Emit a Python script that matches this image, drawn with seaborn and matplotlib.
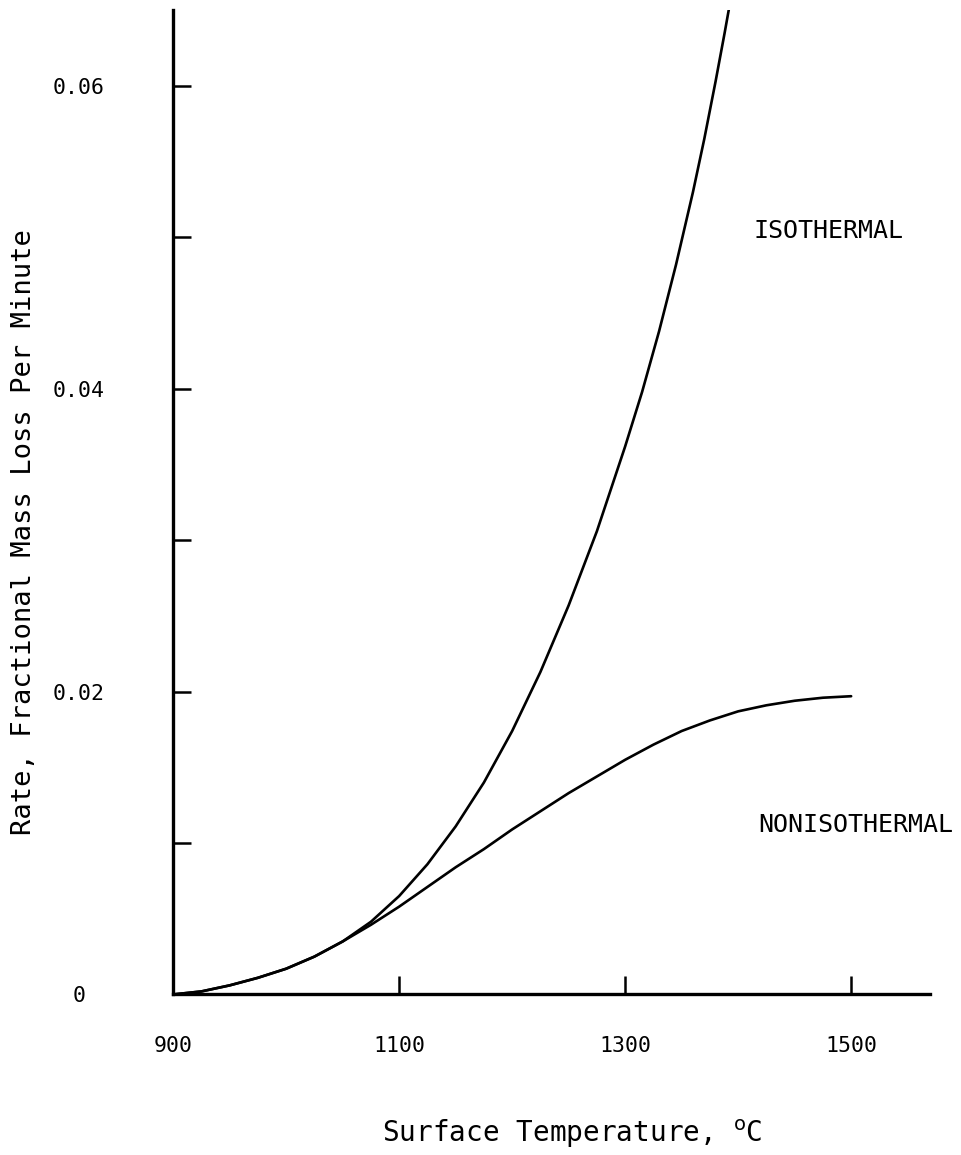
import numpy as np
import pandas as pd
import matplotlib
matplotlib.use("Agg")
import matplotlib.pyplot as plt
import seaborn as sns

# Data
iso_temp = [900, 925, 950, 975, 1000, 1025, 1050, 1075, 1100, 1125, 1150, 1175, 1200, 1225, 1250,
            1275, 1300, 1315, 1330, 1345, 1360, 1370, 1380, 1388, 1394]
iso_rate = [0.0, 0.0002, 0.0006, 0.0011, 0.0017, 0.0025, 0.0035, 0.0048, 0.0065, 0.0086, 0.0111,
            0.0140, 0.0174, 0.0213, 0.0257, 0.0306, 0.0362, 0.0398, 0.0438, 0.0482, 0.0530,
            0.0565, 0.0603, 0.0635, 0.0660]
noniso_temp = [900, 925, 950, 975, 1000, 1025, 1050, 1075, 1100, 1125, 1150, 1175, 1200, 1225,
               1250, 1275, 1300, 1325, 1350, 1375, 1400, 1425, 1450, 1475, 1500]
noniso_rate = [0.0, 0.0002, 0.0006, 0.0011, 0.0017, 0.0025, 0.0035, 0.0046, 0.0058, 0.0071,
               0.0084, 0.0096, 0.0109, 0.0121, 0.0133, 0.0144, 0.0155, 0.0165, 0.0174, 0.0181,
               0.0187, 0.0191, 0.0194, 0.0196, 0.0197]

x_ticks = [900, 1100, 1300, 1500]
x_ticklabels = ["900", "1100", "1300", "1500"]
y_ticks = [0, 0.01, 0.02, 0.03, 0.04, 0.05, 0.06]
y_ticklabels = ["0", "", "0.02", "", "0.04", "", "0.06"]

sns.set_theme(style="ticks")
plt.rcParams["font.family"] = ["DejaVu Sans Mono", "DejaVu Sans"]

fig = plt.figure(figsize=(9.62, 11.55), dpi=100)
ax = fig.add_axes([0.180, 0.139, 0.787, 0.852])

df = pd.concat([
    pd.DataFrame({"temp": iso_temp, "rate": iso_rate, "series": "ISOTHERMAL"}),
    pd.DataFrame({"temp": noniso_temp, "rate": noniso_rate, "series": "NONISOTHERMAL"}),
])
sns.lineplot(data=df, x="temp", y="rate", units="series", estimator=None,
             color="black", linewidth=1.9, ax=ax, legend=False, sort=True)

ax.set_xlim(900, 1570)
ax.set_ylim(0, 0.065)

ax.set_xticks(x_ticks)
ax.set_xticklabels(x_ticklabels)
ax.set_yticks(y_ticks)
ax.set_yticklabels(y_ticklabels)

for s in ["top", "right"]:
    ax.spines[s].set_visible(False)
for s in ["left", "bottom"]:
    ax.spines[s].set_linewidth(2.4)
    ax.spines[s].set_color("black")

ax.tick_params(axis="x", which="both", bottom=True, direction="in", length=13, width=1.8,
               pad=30, labelsize=15.5, colors="black")
ax.tick_params(axis="y", which="both", left=True, direction="in", length=13, width=1.8,
               pad=68, labelsize=15.5, colors="black")
# no tick mark at the origin
ax.xaxis.get_major_ticks()[0].tick1line.set_visible(False)
ax.yaxis.get_major_ticks()[0].tick1line.set_visible(False)
for lab in ax.get_yticklabels():
    lab.set_horizontalalignment("center")

ax.set_xlabel("Surface Temperature, $^{\\rm o}$C", fontsize=20, color="black")
ax.set_ylabel("Rate, Fractional Mass Loss Per Minute", fontsize=19.5, color="black")
ax.xaxis.set_label_coords(0.527, -0.125)
ax.yaxis.set_label_coords(-0.180, 0.47)

ax.text(1480, 0.0504, "ISOTHERMAL", fontsize=18, ha="center", va="center", color="black")
ax.text(1504, 0.0112, "NONISOTHERMAL", fontsize=18, ha="center", va="center", color="black")

ax.grid(False)
fig.savefig("out.png", dpi=100, facecolor="white")
